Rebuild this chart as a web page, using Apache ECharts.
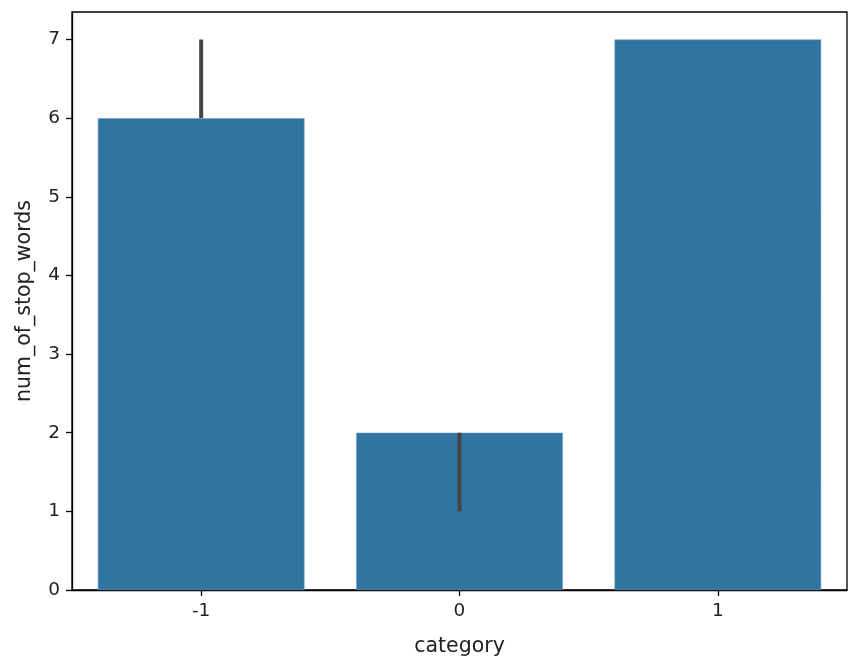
<!DOCTYPE html>
<html><head><meta charset="utf-8">
<script src="https://cdn.jsdelivr.net/npm/echarts@6/dist/echarts.min.js"></script>
<style>html,body{margin:0;padding:0;background:#fff}#c{width:857px;height:667px}</style>
</head><body><div id="c"></div>
<script>
const categories = ['-1', '0', '1'];
const values = [6, 2, 7];
const errLow = [6, 1, 7];
const errHigh = [7, 2, 7];
const yTicks = [0, 1, 2, 3, 4, 5, 6, 7];

const chart = echarts.init(document.getElementById('c'), null, {renderer: 'canvas'});
const font = 'DejaVu Sans';
const fs = 18.5;
const nfs = 20.5;
chart.setOption({
  animation: false,
  grid: {left: 72, right: 10, top: 12, bottom: 77, show: true, borderColor: '#000', borderWidth: 1.3, containLabel: false},
  xAxis: {
    type: 'category', data: categories, boundaryGap: true,
    name: 'category', nameLocation: 'middle', nameGap: 46,
    nameTextStyle: {fontFamily: font, fontSize: nfs, color: '#222'},
    axisLine: {lineStyle: {color: '#000', width: 1.3}},
    axisTick: {show: true, alignWithLabel: true, length: 6, inside: false, lineStyle: {color: '#000', width: 1.3}},
    axisLabel: {fontFamily: font, fontSize: fs, color: '#222', margin: 12},
    splitLine: {show: false}
  },
  yAxis: {
    type: 'value', min: 0, max: 7.35, interval: 1,
    name: 'num_of_stop_words', nameLocation: 'middle', nameGap: 37, nameRotate: 90,
    nameTextStyle: {fontFamily: font, fontSize: nfs, color: '#222'},
    axisLine: {show: true, lineStyle: {color: '#000', width: 1.3}},
    axisTick: {show: true, length: 6, customValues: yTicks, lineStyle: {color: '#000', width: 1.3}},
    axisLabel: {fontFamily: font, fontSize: fs, color: '#222', margin: 12, customValues: yTicks},
    splitLine: {show: false}
  },
  series: [
    {
      type: 'bar', data: values, barWidth: '80%',
      itemStyle: {color: '#3274a1', borderColor: '#6a9cc2', borderWidth: 0.6}
    },
    {
      type: 'custom',
      data: categories.map((c, i) => [i, errLow[i], errHigh[i]]),
      renderItem: function (params, api) {
        const a = api.coord([api.value(0), api.value(1)]);
        const b = api.coord([api.value(0), api.value(2)]);
        return {type: 'line', shape: {x1: a[0], y1: a[1], x2: b[0], y2: b[1]},
          style: {stroke: '#444', lineWidth: 4}};
      },
      z: 10
    }
  ]
});
</script></body></html>
